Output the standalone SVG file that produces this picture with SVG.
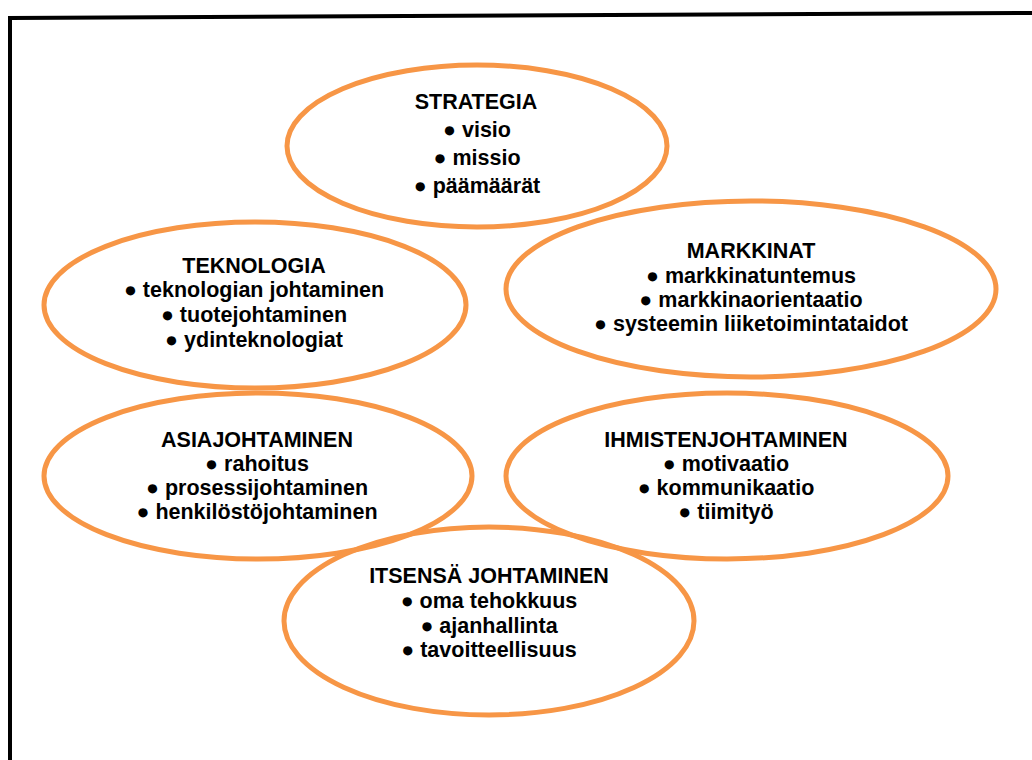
<svg xmlns="http://www.w3.org/2000/svg" width="1032" height="760" viewBox="0 0 1032 760">
  <style>
    .bubble { fill: none; stroke: #F79646; stroke-width: 5; }
    .label { font-family: "Liberation Sans", Arial, sans-serif; font-weight: bold; font-size: 21.5px; fill: #000; text-anchor: middle; }
    .frame { fill: none; stroke: #000; stroke-width: 4; }
  </style>
  <rect width="1032" height="760" fill="#fff"/>
  <!-- page frame, only left and top edges fall inside the view -->
  <path class="frame" d="M10,762 L10,18 L1034,13"/>

  <g id="strategia">
    <ellipse class="bubble" cx="477" cy="146" rx="190" ry="81"/>
    <text class="label" x="476" y="109">STRATEGIA</text>
    <text class="label" x="477" y="137">● visio</text>
    <text class="label" x="477" y="165">● missio</text>
    <text class="label" x="477" y="193">● päämäärät</text>
  </g>

  <g id="teknologia">
    <ellipse class="bubble" cx="255" cy="305" rx="211" ry="83"/>
    <text class="label" x="254" y="273">TEKNOLOGIA</text>
    <text class="label" x="254" y="297">● teknologian johtaminen</text>
    <text class="label" x="254" y="322">● tuotejohtaminen</text>
    <text class="label" x="254" y="347">● ydinteknologiat</text>
  </g>

  <g id="markkinat">
    <ellipse class="bubble" cx="751" cy="289" rx="245" ry="88"/>
    <text class="label" x="751" y="258">MARKKINAT</text>
    <text class="label" x="751" y="283">● markkinatuntemus</text>
    <text class="label" x="751" y="307">● markkinaorientaatio</text>
    <text class="label" x="751" y="331">● systeemin liiketoimintataidot</text>
  </g>

  <g id="asiajohtaminen">
    <ellipse class="bubble" cx="258" cy="476" rx="214" ry="83"/>
    <text class="label" x="257" y="447">ASIAJOHTAMINEN</text>
    <text class="label" x="257" y="471">● rahoitus</text>
    <text class="label" x="257" y="495">● prosessijohtaminen</text>
    <text class="label" x="257" y="519">● henkilöstöjohtaminen</text>
  </g>

  <g id="ihmistenjohtaminen">
    <ellipse class="bubble" cx="727" cy="476" rx="221" ry="83"/>
    <text class="label" x="726" y="447">IHMISTENJOHTAMINEN</text>
    <text class="label" x="726" y="471">● motivaatio</text>
    <text class="label" x="726" y="495">● kommunikaatio</text>
    <text class="label" x="726" y="519">● tiimityö</text>
  </g>

  <g id="itsensa-johtaminen">
    <ellipse class="bubble" cx="489" cy="621" rx="205" ry="94"/>
    <text class="label" x="489" y="583">ITSENSÄ JOHTAMINEN</text>
    <text class="label" x="489" y="608">● oma tehokkuus</text>
    <text class="label" x="489" y="633">● ajanhallinta</text>
    <text class="label" x="489" y="657">● tavoitteellisuus</text>
  </g>

  <g id="connectors"/>
</svg>
